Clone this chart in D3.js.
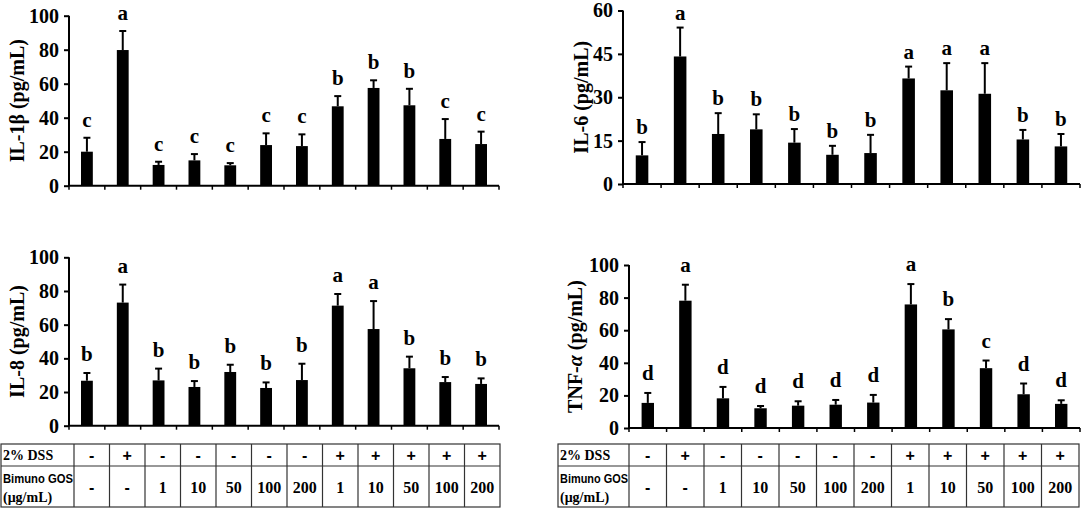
<!DOCTYPE html>
<html><head><meta charset="utf-8">
<script src="https://cdn.jsdelivr.net/npm/d3@7"></script>
<style>
body{margin:0;background:#fff;}
svg{display:block;}
</style></head>
<body>
<svg id="chart" width="1084" height="509"></svg>
<script>
// ---- data ----
const groups = ["G1","G2","G3","G4","G5","G6","G7","G8","G9","G10","G11","G12"];
const dssRow = ["-","+","-","-","-","-","-","+","+","+","+","+"];
const gosRow = ["-","-","1","10","50","100","200","1","10","50","100","200"];

const il1bMean = [20, 79.8, 12.2, 14.9, 12, 23.9, 23.3, 46.7, 57.5, 47.3, 27.5, 24.5];
const il1bSD   = [8.2, 11.2, 1.9, 3.7, 1.3, 6.9, 6.9, 6.0, 4.5, 9.7, 11.7, 7.3];
const il1bSig  = ["c","a","c","c","c","c","c","b","b","b","c","c"];
const il1bTicks = [0,20,40,60,80,100];

const il6Mean = [9.9, 44.1, 17.3, 18.9, 14.3, 10.1, 10.7, 36.5, 32.4, 31.2, 15.4, 13];
const il6SD   = [4.6, 10, 7.2, 5.2, 4.7, 3.1, 6.3, 4.1, 9.4, 10.6, 3.3, 4.3];
const il6Sig  = ["b","a","b","b","b","b","b","a","a","a","b","b"];
const il6Ticks = [0,15,30,45,60];

const il8Mean = [26.7, 73.1, 26.9, 23, 31.9, 22.4, 27.1, 71.3, 57.4, 34.1, 25.9, 24.8];
const il8SD   = [4.6, 10.7, 7.0, 3.5, 4.3, 3.3, 9.7, 6.9, 16.6, 6.9, 3.0, 3.3];
const il8Sig  = ["b","a","b","b","b","b","b","a","a","b","b","b"];
const il8Ticks = [0,20,40,60,80,100];

const tnfMean = [15.4, 78.1, 18.2, 12.1, 13.7, 14.3, 15.6, 75.8, 60.5, 36.7, 20.7, 14.8];
const tnfSD   = [6.1, 9.8, 7.0, 1.4, 2.7, 2.9, 4.7, 12.5, 6.3, 4.7, 6.6, 2.2];
const tnfSig  = ["d","a","d","d","d","d","d","a","b","c","d","d"];
const tnfTicks = [0,20,40,60,80,100];

const tableLabels = ["2% DSS", "Bimuno GOS", "(\u03bcg/mL)"];

// ---- layout ----
const svg = d3.select("#chart");
const serif = "'Liberation Serif','Times New Roman',serif";
const sans = "'Liberation Sans',Arial,sans-serif";

const panels = [
  {title:"IL-1\u03b2 (pg/mL)", mean:il1bMean, sd:il1bSD, sig:il1bSig, ticks:il1bTicks,
   x0:69, x1:499, yTop:15.7, yBot:185.7, titleX:17, gap:11},
  {title:"IL-6 (pg/mL)", mean:il6Mean, sd:il6SD, sig:il6Sig, ticks:il6Ticks,
   x0:623, x1:1080, yTop:10.5, yBot:184, titleX:581, gap:8},
  {title:"IL-8 (pg/mL)", mean:il8Mean, sd:il8SD, sig:il8Sig, ticks:il8Ticks,
   x0:69, x1:499, yTop:257.3, yBot:425.7, titleX:17, gap:12},
  {title:"TNF-\u03b1 (pg/mL)", mean:tnfMean, sd:tnfSD, sig:tnfSig, ticks:tnfTicks,
   x0:629, x1:1080, yTop:265, yBot:428, titleX:575, gap:13, italicAlpha:true}
];

panels.forEach(p => {
  const g = svg.append("g");
  const x = d3.scaleBand().domain(groups).range([p.x0, p.x1]).paddingInner(0).paddingOuter(0);
  const y = d3.scaleLinear().domain([0, d3.max(p.ticks)]).range([p.yBot, p.yTop]);
  const bw = x.bandwidth() * 0.33;

  // bars
  g.selectAll("rect.bar").data(p.mean).join("rect")
    .attr("x", (d,i) => x(groups[i]) + x.bandwidth()/2 - bw/2)
    .attr("y", d => y(d))
    .attr("width", bw)
    .attr("height", d => y(0) - y(d))
    .attr("fill", "#000");

  // error bars (upper only)
  const eb = g.selectAll("g.err").data(p.mean).join("g");
  eb.append("line")
    .attr("x1", (d,i) => x(groups[i]) + x.bandwidth()/2)
    .attr("x2", (d,i) => x(groups[i]) + x.bandwidth()/2)
    .attr("y1", d => y(d))
    .attr("y2", (d,i) => y(d + p.sd[i]))
    .attr("stroke", "#000").attr("stroke-width", 2);
  eb.append("line")
    .attr("x1", (d,i) => x(groups[i]) + x.bandwidth()/2 - 3.5)
    .attr("x2", (d,i) => x(groups[i]) + x.bandwidth()/2 + 3.5)
    .attr("y1", (d,i) => y(d + p.sd[i]))
    .attr("y2", (d,i) => y(d + p.sd[i]))
    .attr("stroke", "#000").attr("stroke-width", 2);

  // significance letters
  g.selectAll("text.sig").data(p.sig).join("text")
    .attr("x", (d,i) => x(groups[i]) + x.bandwidth()/2)
    .attr("y", (d,i) => y(p.mean[i] + p.sd[i]) - p.gap)
    .attr("text-anchor", "middle")
    .attr("font-family", serif).attr("font-weight", "bold").attr("font-size", 21)
    .text(d => d);

  // y axis
  const ya = g.append("g").attr("transform", `translate(${p.x0},0)`)
    .call(d3.axisLeft(y).tickValues(p.ticks).tickSize(5).tickPadding(5).tickSizeOuter(0));
  ya.attr("font-family", null);
  ya.select(".domain").attr("stroke-width", 2).attr("d", `M0,${p.yTop}V${p.yBot}`);
  ya.selectAll(".tick line").attr("stroke-width", 2);
  ya.selectAll("text").attr("font-family", serif).attr("font-weight", "bold")
    .attr("font-size", 20).attr("fill", "#000");

  // x axis: ticks at band boundaries pointing down
  const bounds = groups.map(d => x(d)).concat([p.x1]);
  g.append("line").attr("x1", p.x0 - 1).attr("x2", p.x1).attr("y1", p.yBot).attr("y2", p.yBot)
    .attr("stroke", "#000").attr("stroke-width", 2);
  g.selectAll("line.xt").data(bounds).join("line")
    .attr("x1", d => d).attr("x2", d => d)
    .attr("y1", p.yBot).attr("y2", p.yBot + 4)
    .attr("stroke", "#000").attr("stroke-width", 1.5);

  // y title
  const cy = (p.yTop + p.yBot) / 2;
  const t = g.append("text")
    .attr("transform", `translate(${p.titleX},${cy}) rotate(-90)`)
    .attr("text-anchor", "middle").attr("dominant-baseline", "central")
    .attr("font-family", serif).attr("font-weight", "bold").attr("font-size", 20);
  if (p.italicAlpha) {
    t.append("tspan").text("TNF-");
    t.append("tspan").attr("font-style", "italic").text("\u03b1");
    t.append("tspan").text(" (pg/mL)");
  } else {
    t.text(p.title);
  }
});

// ---- tables ----
const tables = [
  {left:1, labelRight:74, right:500, top:444, mid:466, bottom:507},
  {left:558, labelRight:629, right:1079, top:444, mid:466, bottom:507}
];
tables.forEach(tb => {
  const g = svg.append("g");
  const cx = d3.scaleBand().domain(groups).range([tb.labelRight, tb.right]);
  const stroke = "#333";
  g.append("rect").attr("x", tb.left).attr("y", tb.top)
    .attr("width", tb.right - tb.left).attr("height", tb.bottom - tb.top)
    .attr("fill", "none").attr("stroke", stroke).attr("stroke-width", 1.2);
  g.append("line").attr("x1", tb.left).attr("x2", tb.right).attr("y1", tb.mid).attr("y2", tb.mid)
    .attr("stroke", stroke).attr("stroke-width", 1.2);
  g.selectAll("line.col").data(groups).join("line")
    .attr("x1", d => cx(d)).attr("x2", d => cx(d))
    .attr("y1", tb.top).attr("y2", tb.bottom)
    .attr("stroke", stroke).attr("stroke-width", 1.2);

  g.append("text").attr("x", tb.left + 2).attr("y", (tb.top + tb.mid)/2 + 5)
    .attr("font-family", serif).attr("font-weight", "bold").attr("font-size", 14)
    .text(tableLabels[0]);
  g.append("text").attr("x", tb.left + 2).attr("y", tb.mid + 17)
    .attr("font-family", sans).attr("font-weight", "bold").attr("font-size", 12.5)
    .attr("textLength", tb.labelRight - tb.left - 3).attr("lengthAdjust", "spacingAndGlyphs")
    .text(tableLabels[1]);
  g.append("text").attr("x", tb.left + 2).attr("y", tb.mid + 36)
    .attr("font-family", serif).attr("font-weight", "bold").attr("font-size", 14)
    .text(tableLabels[2]);

  g.selectAll("text.dss").data(dssRow).join("text")
    .attr("x", (d,i) => cx(groups[i]) + cx.bandwidth()/2)
    .attr("y", (tb.top + tb.mid)/2 + 5.5)
    .attr("text-anchor", "middle")
    .attr("font-family", sans).attr("font-weight", "bold").attr("font-size", 16)
    .text(d => d);
  g.selectAll("text.gos").data(gosRow).join("text")
    .attr("x", (d,i) => cx(groups[i]) + cx.bandwidth()/2)
    .attr("y", (tb.mid + tb.bottom)/2 + 6)
    .attr("text-anchor", "middle")
    .attr("font-family", d => d === "-" ? sans : serif).attr("font-weight", "bold")
    .attr("font-size", 16)
    .text(d => d);
});
</script>
</body></html>
